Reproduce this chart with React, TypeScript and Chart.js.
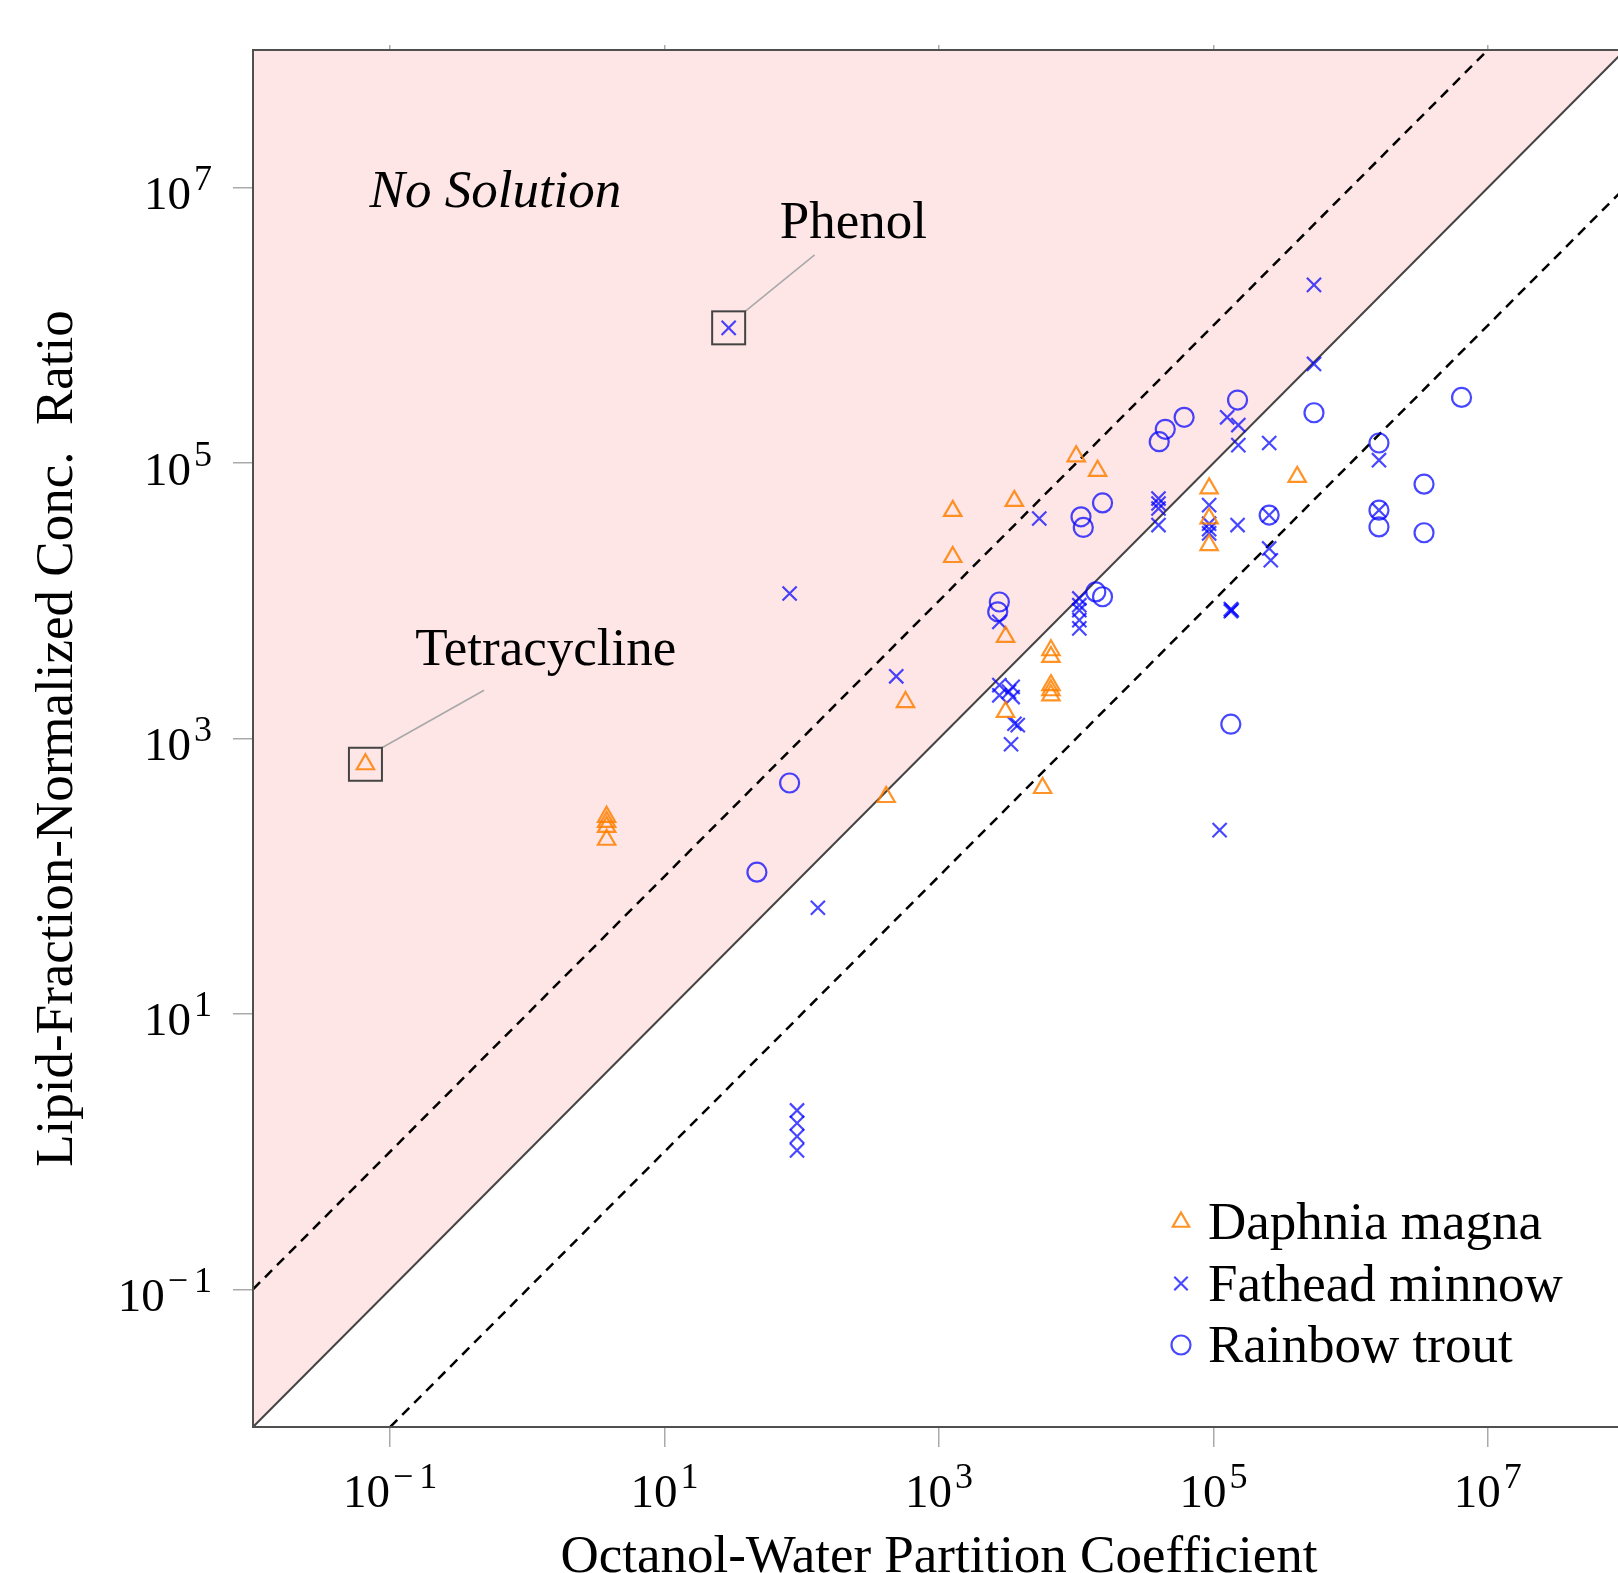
import React, { useEffect, useRef } from 'react';
import { Chart, registerables } from 'chart.js';

Chart.register(...registerables);

// ---------- data ----------
const tickValues = [0.1, 10, 1e3, 1e5, 1e7];
const tickExponents = ['\u22121', '1', '3', '5', '7'];

const daphniaX = [0.066, 3.78, 3.78, 3.78, 3.78, 412, 570, 1259, 1259, 3540, 3055, 3055, 6546, 6546, 6546, 6546, 6546, 5690, 10000, 14320, 93100, 93100, 93100, 408000];
const daphniaY = [650, 270, 248, 228, 184, 376, 1840, 45000, 20800, 53200, 5470, 1560, 4375, 3910, 2440, 2240, 2060, 437, 112000, 87900, 65500, 39600, 25400, 79400];

const fatheadX = [29.3, 81.5, 131, 92.3, 92.3, 92.3, 92.3, 488, 5380, 2754, 2754, 3443, 2754, 3443, 3236, 3548, 3750, 3350, 10540, 10540, 10540, 10540, 10540, 39800, 39800, 39800, 39800, 93100, 93100, 93100, 93100, 126000, 152000, 152000, 150000, 255000, 255000, 255000, 262000, 134000, 134000, 136000, 111000, 541000, 541000, 1610000, 1610000];
const fatheadY = [960000, 11300, 59, 1.99, 1.61, 1.29, 1.02, 2830, 39600, 7030, 2440, 2370, 2060, 2000, 2190, 1280, 1250, 908, 10400, 9290, 8550, 7240, 6310, 55300, 50900, 46800, 35500, 49500, 36300, 33100, 30900, 215000, 189000, 135000, 35500, 140000, 41900, 24000, 19700, 8700, 8400, 8550, 216, 1970000, 525000, 105000, 45500];

const troutX = [47.1, 81.5, 2754, 2680, 10840, 11270, 15560, 13900, 15560, 40300, 44600, 61200, 150000, 255000, 541000, 134000, 1610000, 1610000, 1610000, 3430000, 3430000, 6440000];
const troutY = [107, 475, 9800, 8320, 40700, 34100, 51400, 11600, 10700, 143000, 176000, 215000, 287000, 41900, 232000, 1270, 140000, 45500, 34400, 70300, 31200, 300000];

// reference lines: y = x, y = 10x, y = x/10
const unityLineX = [0.01, 1e8];
const unityLineY = [0.01, 1e8];
const upperLineX = [0.01, 1e7];
const upperLineY = [0.1, 1e8];
const lowerLineX = [0.1, 1e8];
const lowerLineY = [0.01, 1e7];

const seriesLabels = ['Daphnia magna', 'Fathead minnow', 'Rainbow trout'];

// annotation text anchors (data coordinates: centre x, baseline y)
const noSolutionAnchor = { x: 0.585, y: 7.2e6 };
const phenolAnchor = { x: 238, y: 4.3e6 };
const phenolLeaderEnd = { x: 124, y: 3.25e6 };
const tetraAnchor = { x: 1.36, y: 3400 };
const tetraLeaderEnd = { x: 0.483, y: 2240 };

// ---------- styles ----------
const ORANGE = 'rgba(255,128,0,0.85)';
const BLUE = 'rgba(0,0,255,0.72)';
const PINK = 'rgb(254,229,230)';
const FRAME = '#505050';
const SERIF = '"Liberation Serif", "DejaVu Serif", serif';

const zip = (xs: number[], ys: number[]) => xs.map((x, i) => ({ x, y: ys[i] }));

function drawMarker(ctx: CanvasRenderingContext2D, style: string, x: number, y: number, r: number, color: string) {
  ctx.save();
  ctx.strokeStyle = color;
  ctx.lineWidth = 2.2;
  ctx.beginPath();
  if (style === 'triangle') {
    let rad = 0;
    ctx.moveTo(x + Math.sin(rad) * r, y - Math.cos(rad) * r);
    rad += (2 * Math.PI) / 3;
    ctx.lineTo(x + Math.sin(rad) * r, y - Math.cos(rad) * r);
    rad += (2 * Math.PI) / 3;
    ctx.lineTo(x + Math.sin(rad) * r, y - Math.cos(rad) * r);
    ctx.closePath();
  } else if (style === 'crossRot') {
    const o = Math.cos(Math.PI / 4) * r;
    ctx.moveTo(x - o, y - o);
    ctx.lineTo(x + o, y + o);
    ctx.moveTo(x + o, y - o);
    ctx.lineTo(x - o, y + o);
  } else {
    ctx.arc(x, y, r, 0, Math.PI * 2);
  }
  ctx.stroke();
  ctx.restore();
}

const overlayPlugin = {
  id: 'overlay',
  afterDraw(chart: any) {
    const { ctx, chartArea: a, scales } = chart;
    const xs = scales.x;
    const ys = scales.y;
    ctx.save();

    // frame
    ctx.strokeStyle = FRAME;
    ctx.lineWidth = 2;
    ctx.strokeRect(a.left, a.top, a.right - a.left, a.bottom - a.top);

    // tick labels with superscripts
    const mainFont = `47px ${SERIF}`;
    const supFont = `36px ${SERIF}`;
    ctx.fillStyle = '#000';
    ctx.textBaseline = 'alphabetic';
    ctx.textAlign = 'left';
    tickValues.forEach((v, i) => {
      const exp = tickExponents[i];
      ctx.font = mainFont;
      const w1 = ctx.measureText('10').width;
      ctx.font = supFont;
      const w2 = ctx.measureText(exp).width + (exp.length > 1 ? 6 : 0);
      const gap = 3;
      // x axis
      const px = xs.getPixelForValue(v);
      const left = px - (w1 + gap + w2) / 2;
      ctx.font = mainFont;
      ctx.fillText('10', left, a.bottom + 80);
      ctx.font = supFont;
      if (exp.length > 1) {
        ctx.fillText(exp[0], left + w1 + gap, a.bottom + 61);
        ctx.fillText(exp.slice(1), left + w1 + gap + w2 - ctx.measureText(exp.slice(1)).width, a.bottom + 61);
      } else {
        ctx.fillText(exp, left + w1 + gap, a.bottom + 61);
      }
      // y axis
      const py = ys.getPixelForValue(v);
      const right = a.left - 41;
      ctx.font = supFont;
      if (exp.length > 1) {
        ctx.fillText(exp[0], right - w2, py + 2.5);
        ctx.fillText(exp.slice(1), right - ctx.measureText(exp.slice(1)).width, py + 2.5);
      } else {
        ctx.fillText(exp, right - w2, py + 2.5);
      }
      ctx.font = mainFont;
      ctx.fillText('10', right - w2 - gap - w1, py + 21.5);
    });

    // axis titles
    ctx.font = `53px ${SERIF}`;
    ctx.textAlign = 'center';
    ctx.fillText('Octanol-Water Partition Coefficient', (a.left + a.right) / 2, a.bottom + 145);
    ctx.save();
    ctx.translate(72, (a.top + a.bottom) / 2);
    ctx.rotate(-Math.PI / 2);
    ctx.fillText('Lipid-Fraction-Normalized Conc.  Ratio', 0, 0);
    ctx.restore();

    // highlighted points (boxes + leader lines)
    const half = 16.5;
    const boxes = [
      { p: { x: fatheadX[0], y: fatheadY[0] }, end: phenolLeaderEnd },
      { p: { x: daphniaX[0], y: daphniaY[0] }, end: tetraLeaderEnd },
    ];
    boxes.forEach(({ p, end }) => {
      const cx = xs.getPixelForValue(p.x);
      const cy = ys.getPixelForValue(p.y);
      ctx.strokeStyle = '#a8a8a8';
      ctx.lineWidth = 1.5;
      ctx.beginPath();
      ctx.moveTo(cx + half, cy - half);
      ctx.lineTo(xs.getPixelForValue(end.x), ys.getPixelForValue(end.y));
      ctx.stroke();
      ctx.strokeStyle = '#444';
      ctx.lineWidth = 2;
      ctx.strokeRect(cx - half, cy - half, half * 2, half * 2);
    });

    // annotation texts
    ctx.fillStyle = '#000';
    ctx.textAlign = 'center';
    ctx.font = `italic 53px ${SERIF}`;
    ctx.fillText('No Solution', xs.getPixelForValue(noSolutionAnchor.x), ys.getPixelForValue(noSolutionAnchor.y));
    ctx.font = `53px ${SERIF}`;
    ctx.fillText('Phenol', xs.getPixelForValue(phenolAnchor.x), ys.getPixelForValue(phenolAnchor.y));
    ctx.fillText('Tetracycline', xs.getPixelForValue(tetraAnchor.x), ys.getPixelForValue(tetraAnchor.y));

    // legend
    const styles = ['triangle', 'crossRot', 'circle'];
    const colors = [ORANGE, BLUE, BLUE];
    const radii = [9.5, 9.5, 9.5];
    const mx = a.right - 444;
    const y0 = a.bottom - 205;
    ctx.textAlign = 'left';
    ctx.font = `53px ${SERIF}`;
    seriesLabels.forEach((lab, i) => {
      const my = y0 + i * 61.5;
      drawMarker(ctx, styles[i], mx, my, radii[i], colors[i]);
      ctx.fillStyle = '#000';
      ctx.fillText(lab, a.right - 417, my + 17);
    });

    ctx.restore();
  },
};

function buildScale(position: string, size: number, tickLen: number, isY: boolean) {
  return {
    type: 'logarithmic',
    position,
    min: 0.01,
    max: 1e8,
    grid: {
      display: true,
      drawOnChartArea: false,
      drawTicks: true,
      tickLength: tickLen,
      color: '#aaaaaa',
      tickColor: '#aaaaaa',
      tickWidth: 1.5,
      lineWidth: 1.5,
    },
    border: { display: false },
    ticks: { display: false },
    afterBuildTicks: (scale: any) => {
      scale.ticks = tickValues.map((v) => ({ value: v }));
    },
    afterFit: (scale: any) => {
      if (isY) scale.width = size;
      else scale.height = size;
    },
  };
}

export default function App() {
  const ref = useRef<HTMLCanvasElement | null>(null);

  useEffect(() => {
    if (!ref.current) return;
    const pointCommon = {
      showLine: false,
      pointBackgroundColor: 'rgba(0,0,0,0)',
      pointBorderWidth: 2.2,
      pointHoverRadius: 10,
      order: 0,
    };
    const chart = new Chart(ref.current, {
      type: 'scatter',
      data: {
        datasets: [
          {
            ...pointCommon,
            label: seriesLabels[0],
            data: zip(daphniaX, daphniaY),
            pointStyle: 'triangle',
            pointRadius: 10,
            pointBorderColor: ORANGE,
          },
          {
            ...pointCommon,
            label: seriesLabels[1],
            data: zip(fatheadX, fatheadY),
            pointStyle: 'crossRot',
            pointRadius: 10,
            pointBorderColor: BLUE,
          },
          {
            ...pointCommon,
            label: seriesLabels[2],
            data: zip(troutX, troutY),
            pointStyle: 'circle',
            pointRadius: 9.5,
            pointBorderColor: BLUE,
          },
          {
            label: 'y = 10x',
            data: zip(upperLineX, upperLineY),
            showLine: true,
            pointRadius: 0,
            borderColor: '#000',
            borderWidth: 2.5,
            borderDash: [10, 7],
            fill: false,
            order: 5,
          },
          {
            label: 'y = x/10',
            data: zip(lowerLineX, lowerLineY),
            showLine: true,
            pointRadius: 0,
            borderColor: '#000',
            borderWidth: 2.5,
            borderDash: [10, 7],
            fill: false,
            order: 5,
          },
          {
            label: 'y = x',
            data: zip(unityLineX, unityLineY),
            showLine: true,
            pointRadius: 0,
            borderColor: '#444',
            borderWidth: 2,
            fill: 'end',
            backgroundColor: PINK,
            order: 10,
          },
        ],
      },
      options: {
        responsive: false,
        animation: false,
        devicePixelRatio: 1,
        layout: { padding: { left: 0, top: 0, right: 35, bottom: 0 } },
        plugins: {
          legend: { display: false },
          tooltip: { enabled: false },
        },
        scales: {
          x: buildScale('bottom', 146, 20, false),
          x2: buildScale('top', 50, 5, false),
          y: buildScale('left', 253, 20, true),
        },
      } as any,
      plugins: [overlayPlugin],
    });
    return () => chart.destroy();
  }, []);

  return (
    <div
      style={{
        position: 'fixed',
        left: 0,
        top: 0,
        width: 1618,
        height: 1573,
        overflow: 'hidden',
        background: '#fff',
      }}
    >
      <canvas ref={ref} width={1660} height={1573} style={{ display: 'block' }} />
    </div>
  );
}
